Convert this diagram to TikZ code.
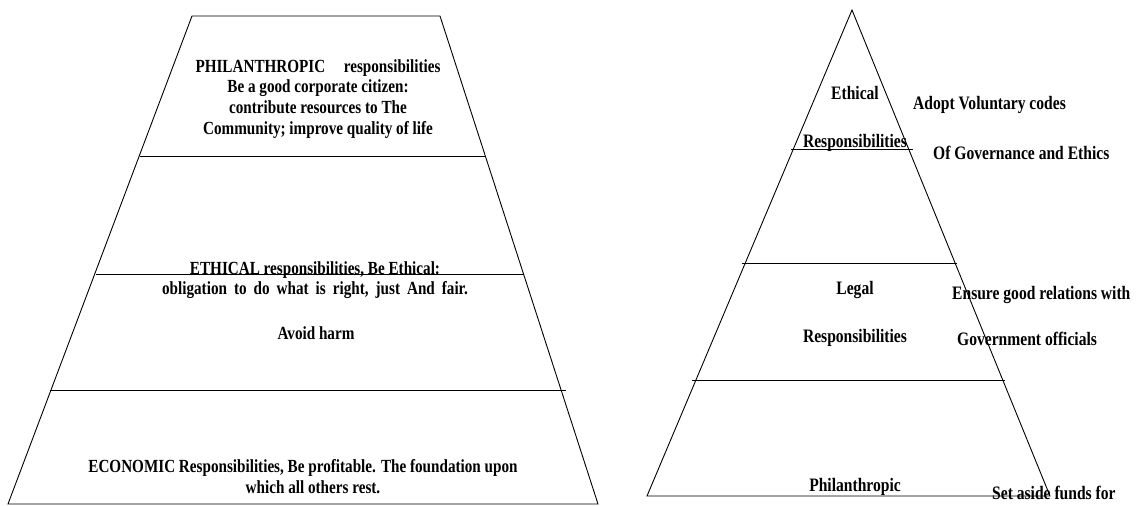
\documentclass[tikz,border=0pt]{standalone}
\usepackage{fontspec}
\setmainfont{Liberation Serif}[FakeStretch=0.82]
\begin{document}
\begin{tikzpicture}[x=1pt,y=-1pt,
  edge/.style={line width=0.9pt, black},
  lt/.style={font=\fontsize{18.5}{22}\selectfont\bfseries, anchor=base, inner sep=0pt},
  rt/.style={font=\fontsize{19}{23}\selectfont\bfseries, anchor=base, inner sep=0pt},
  rtl/.style={font=\fontsize{19}{23}\selectfont\bfseries, anchor=base west, inner sep=0pt}]
\useasboundingbox (0,0) rectangle (1141,506);
% left trapezoid
\coordinate (LTL) at (192,16);
\coordinate (LTR) at (440,16);
\coordinate (LBL) at (8,504);
\coordinate (LBR) at (598,504);
\draw[edge] (LTL) -- (LTR) -- (LBR) -- (LBL) -- cycle;
\draw[edge] (140,156) -- (486,156);
\draw[edge] (96,274) -- (524,274);
\draw[edge] (50,390) -- (566,390);
% left texts
\node[lt] (p1) at (318,72) {PHILANTHROPIC\quad responsibilities};
\node[lt] (p2) at (318,92) {Be a good corporate citizen:};
\node[lt] (p3) at (318,113) {contribute resources to The};
\node[lt] (p4) at (318,134) {Community; improve quality of life};
\node[lt] (e1) at (315,274) {ETHICAL responsibilities, Be Ethical:};
\node[lt] (e2) at (315,294) {\spaceskip=7pt obligation to do what is right, just And fair.};
\node[lt] (e3) at (316,339) {Avoid harm};
\node[lt] (c1) at (303,472) {ECONOMIC Responsibilities, Be profitable. The foundation upon};
\node[lt] (c2) at (313,493) {which all others rest.};
% right triangle
\coordinate (RA) at (852,10);
\coordinate (RBL) at (647,496);
\coordinate (RBR) at (1050,496);
\draw[edge] (RA) -- (RBR) -- (RBL) -- cycle;
\draw[edge] (791,149) -- (913,149);
\draw[edge] (742,263) -- (957,263);
\draw[edge] (692,380) -- (1005,380);
% right texts
\node[rt] (r1) at (855,99) {Ethical};
\node[rt] (r2) at (855,147) {Responsibilities};
\node[rtl] (r3) at (913,109) {Adopt Voluntary codes};
\node[rtl] (r4) at (933,159) {Of Governance and Ethics};
\node[rt] (r5) at (855,294) {Legal};
\node[rt] (r6) at (855,342) {Responsibilities};
\node[rtl] (r7) at (952,299) {Ensure good relations with};
\node[rtl] (r8) at (957,345) {Government officials};
\node[rt] (r9) at (855,491) {Philanthropic};
\node[rtl] (r10) at (992,499) {Set aside funds for};
\end{tikzpicture}
\end{document}
